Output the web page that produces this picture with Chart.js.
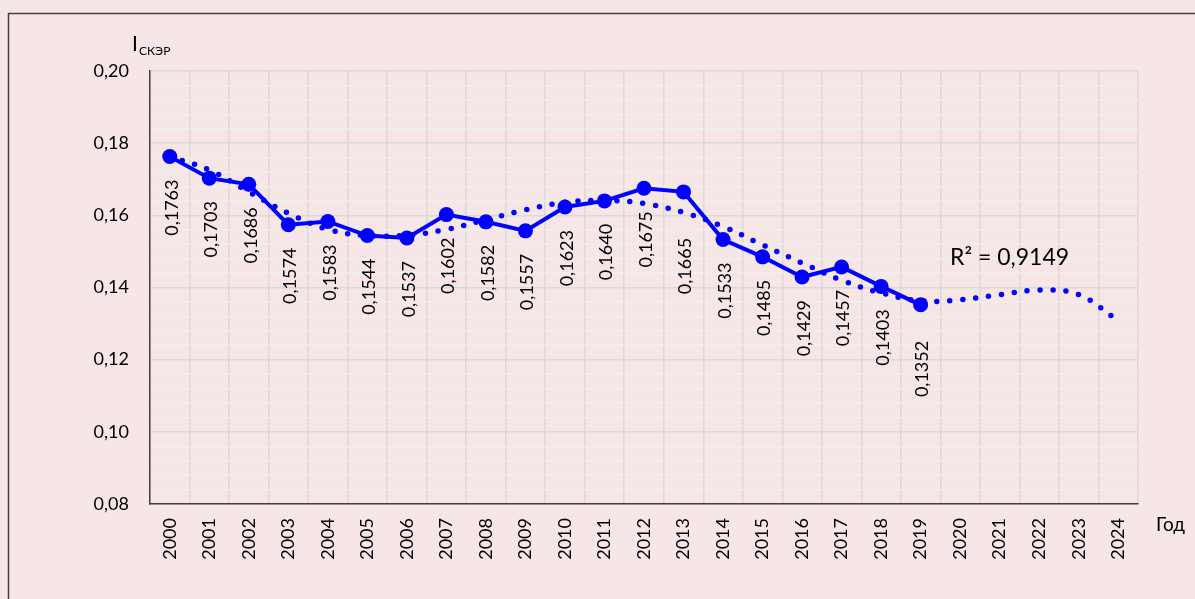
<!DOCTYPE html>
<html>
<head>
<meta charset="utf-8">
<script src="https://cdn.jsdelivr.net/npm/chart.js@4.4.1/dist/chart.umd.min.js"></script>
<style>
  html, body { margin: 0; padding: 0; background: #f6e6e6; }
  #wrap { width: 1195px; height: 599px; position: relative; }
</style>
</head>
<body>
<div id="wrap"><canvas id="c"></canvas></div>
<script>
const years = ['2000','2001','2002','2003','2004','2005','2006','2007','2008','2009','2010','2011','2012','2013','2014','2015','2016','2017','2018','2019','2020','2021','2022','2023','2024'];
const indexValues = [0.1763, 0.1703, 0.1686, 0.1574, 0.1583, 0.1544, 0.1537, 0.1602, 0.1582, 0.1557, 0.1623, 0.1640, 0.1675, 0.1665, 0.1533, 0.1485, 0.1429, 0.1457, 0.1403, 0.1352, null, null, null, null, null];
const trendValues = [0.1763, 0.1726, 0.1665, 0.1606, 0.1561, 0.1544, 0.1545, 0.1561, 0.1588, 0.1615, 0.1636, 0.1641, 0.1633, 0.1608, 0.1569, 0.1518, 0.1468, 0.1420, 0.1385, 0.1363, 0.1366, 0.1380, 0.1393, 0.1380, 0.1308];
const yMajorTicks = [0.08, 0.10, 0.12, 0.14, 0.16, 0.18, 0.20];
const rSquaredText = 'R² = 0,9149';
const yTitleMain = 'I';
const yTitleSub = 'СКЭР';
const xTitle = 'Год';

const FONT = 'Lato, "Open Sans", sans-serif';
const labelExtraShift = {13: 23, 19: 13};

const decoPlugin = {
  id: 'deco',
  beforeDraw(chart) {
    const c = chart.ctx;
    c.save();
    c.fillStyle = '#f6e6e6';
    c.fillRect(0, 0, chart.width, chart.height);
    c.strokeStyle = '#404040';
    c.lineWidth = 1.5;
    c.beginPath();
    c.moveTo(8.5, chart.height);
    c.lineTo(8.5, 13.5);
    c.lineTo(chart.width, 13.5);
    c.stroke();
    c.restore();
  },
  afterDatasetsDraw(chart) {
    const c = chart.ctx;
    const meta = chart.getDatasetMeta(1);
    c.save();
    c.fillStyle = '#000';
    c.font = '18px ' + FONT;
    c.textAlign = 'right';
    c.textBaseline = 'middle';
    meta.data.forEach((pt, i) => {
      const v = indexValues[i];
      if (v == null) return;
      const off = 23 + (labelExtraShift[i] || 0);
      c.save();
      c.translate(pt.x + 2, pt.y + off);
      c.rotate(-Math.PI / 2);
      c.fillText(v.toFixed(4).replace('.', ','), 0, 0);
      c.restore();
    });
    // R^2
    c.textAlign = 'left';
    c.textBaseline = 'alphabetic';
    c.font = '23px ' + FONT;
    c.fillText(rSquaredText, 950, 265);
    // y title
    c.font = '21px ' + FONT;
    c.fillText(yTitleMain, 132, 51);
    c.font = '12px ' + FONT;
    c.fillText(yTitleSub, 139, 55);
    // x title
    c.font = '19px ' + FONT;
    c.fillText(xTitle, 1156, 531);
    c.restore();
  }
};

new Chart(document.getElementById('c'), {
  type: 'line',
  data: {
    labels: years,
    datasets: [
      {
        label: 'trend',
        data: trendValues,
        borderColor: '#0000ff',
        borderWidth: 5.5,
        borderDash: [0, 13],
        borderCapStyle: 'round',
        pointRadius: 0,
        tension: 0.4,
        fill: false
      },
      {
        label: 'I',
        data: indexValues,
        borderColor: '#0000ff',
        backgroundColor: '#0000ff',
        borderWidth: 4,
        pointRadius: 7.5,
        pointBackgroundColor: '#0000ff',
        pointBorderWidth: 0,
        tension: 0,
        fill: false
      }
    ]
  },
  options: {
    responsive: true,
    maintainAspectRatio: false,
    devicePixelRatio: 1,
    animation: false,
    layout: { padding: { top: 71, right: 57, left: 0, bottom: 0 } },
    plugins: { legend: { display: false }, tooltip: { enabled: false } },
    scales: {
      x: {
        type: 'category',
        offset: true,
        grid: { offset: true, color: '#d9d9d9', lineWidth: 1.5, drawTicks: false },
        border: { color: '#404040', width: 1.5 },
        ticks: { color: '#000', font: { family: FONT, size: 18 }, minRotation: 90, maxRotation: 90, padding: 14, autoSkip: false },
        afterFit(scale) { scale.height = 95; }
      },
      y: {
        min: 0.08,
        max: 0.20,
        afterBuildTicks(scale) {
          const t = [];
          for (let k = 0; k <= 30; k++) t.push({ value: +(0.08 + k * 0.004).toFixed(3) });
          scale.ticks = t;
        },
        grid: {
          drawTicks: false,
          lineWidth: 1.5,
          color(ctx) {
            const v = ctx.tick ? ctx.tick.value : 0;
            return yMajorTicks.some(m => Math.abs(m - v) < 1e-6) ? '#d9d9d9' : '#f0eded';
          }
        },
        border: { color: '#404040', width: 1.5 },
        ticks: {
          autoSkip: false,
          color: '#000',
          font: { family: FONT, size: 18 },
          padding: 21,
          callback(value) {
            return yMajorTicks.some(m => Math.abs(m - value) < 1e-6) ? value.toFixed(2).replace('.', ',') : '';
          }
        },
        afterFit(scale) { scale.width = 150; }
      }
    }
  },
  plugins: [decoPlugin]
});
</script>
</body>
</html>
